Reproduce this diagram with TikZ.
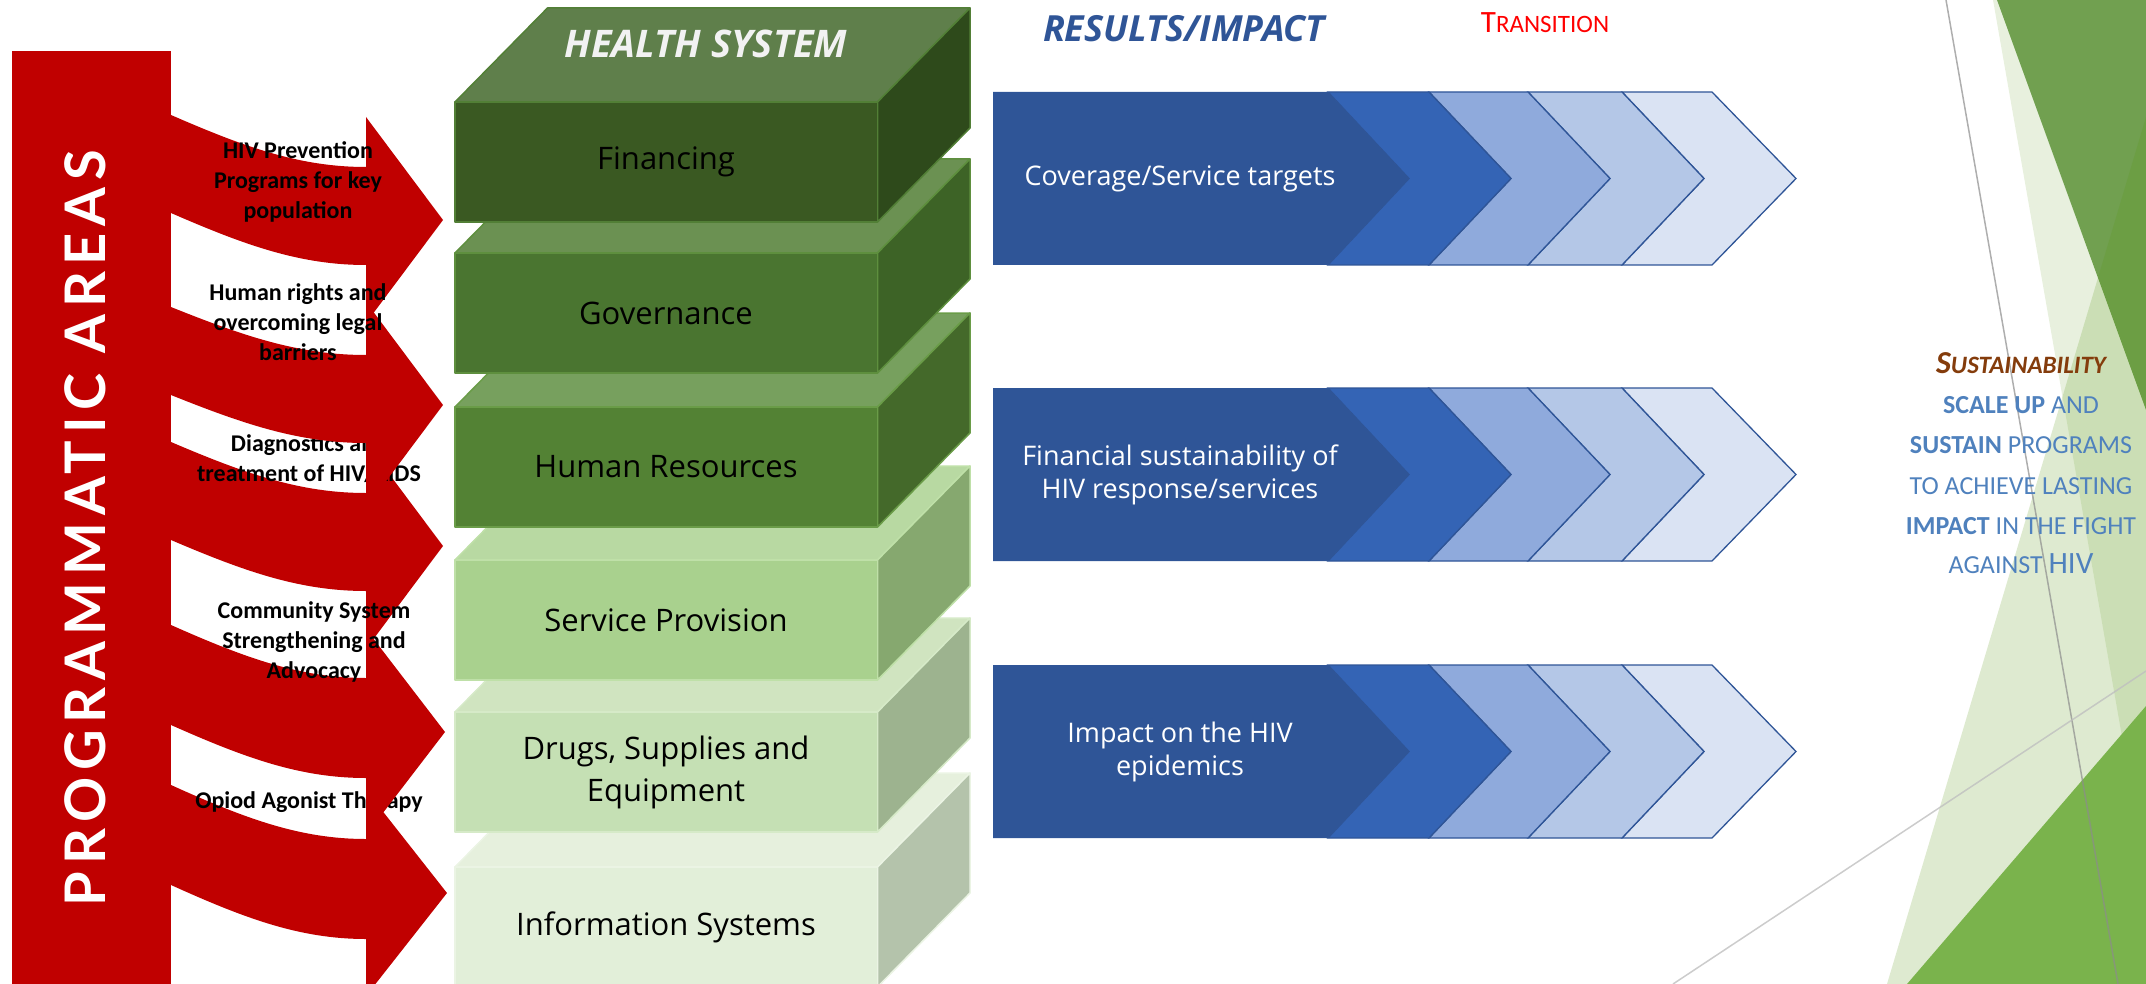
\documentclass[tikz,border=0pt]{standalone}
\usepackage{fontspec}
\setmainfont{Open Sans}
\newfontfamily\calfont{Carlito}
\newfontfamily\latofont{Lato}
\usetikzlibrary{calc}

\definecolor{arrowred}{HTML}{C00000}
\definecolor{blueD}{HTML}{2F5597}
\definecolor{blueM}{HTML}{3464B5}
\definecolor{blueL1}{HTML}{8FAADC}
\definecolor{blueL2}{HTML}{B4C7E7}
\definecolor{blueL3}{HTML}{DAE3F3}
\definecolor{b1t}{HTML}{5F7F4B}\definecolor{b1f}{HTML}{3A5922}\definecolor{b1s}{HTML}{2E4A1B}\definecolor{b1e}{HTML}{527F36}
\definecolor{b2t}{HTML}{6B9152}\definecolor{b2f}{HTML}{4A7530}\definecolor{b2s}{HTML}{3D6326}\definecolor{b2e}{HTML}{5E8F3E}
\definecolor{b3t}{HTML}{77A05E}\definecolor{b3f}{HTML}{538234}\definecolor{b3s}{HTML}{44692A}\definecolor{b3e}{HTML}{6A9C48}
\definecolor{b4t}{HTML}{B8D9A2}\definecolor{b4f}{HTML}{A9D18E}\definecolor{b4s}{HTML}{86A86F}\definecolor{b4e}{HTML}{BFE0A8}
\definecolor{b5t}{HTML}{D0E4C0}\definecolor{b5f}{HTML}{C5E0B4}\definecolor{b5s}{HTML}{9DB38F}\definecolor{b5e}{HTML}{D6EAC8}
\definecolor{b6t}{HTML}{E6F0DD}\definecolor{b6f}{HTML}{E2EFD9}\definecolor{b6s}{HTML}{B4C3AB}\definecolor{b6e}{HTML}{EBF4E4}
\definecolor{hswhite}{HTML}{F2F2F2}
\definecolor{sustbrown}{HTML}{843C0C}
\definecolor{sustblue}{HTML}{4F81BD}
\definecolor{decoC}{RGB}{90,150,20}
\definecolor{decoDark}{HTML}{71A050}
\definecolor{decoMid}{HTML}{7AB34C}
\definecolor{transred}{HTML}{FF0000}

\tikzset{
  blocktext/.style={font=\fontsize{31}{42}\selectfont, text=black, align=center, inner sep=0pt},
  chevtext/.style={font=\fontsize{27}{33}\selectfont, text=white, align=center, inner sep=0pt},
  areatext/.style={font=\calfont\bfseries\fontsize{24}{30}\selectfont, text=black, align=center, inner sep=0pt},
  susttext/.style={font=\calfont\fontsize{26}{26}\selectfont, text=sustblue, anchor=base, inner sep=0pt},
  chevbox/.style={draw=blueD, line width=1.3pt, line join=miter},
  blockedge/.style={line width=1.5pt, line join=round},
}

% #1 top y, #2 top col, #3 front col, #4 side col, #5 edge col, #6 name, #7 text
\newcommand\hsblock[7]{%
  \filldraw[blockedge, fill=#2, draw=#5] (455,#1) -- (547.5,{#1-94}) -- (970,{#1-94}) -- (877.5,#1) -- cycle;
  \filldraw[blockedge, fill=#4, draw=#5] (877.5,#1) -- (970,{#1-94}) -- (970,{#1+26}) -- (877.5,{#1+120}) -- cycle;
  \filldraw[blockedge, fill=#3, draw=#5] (455,#1) rectangle (877.5,{#1+120});
  \node[blocktext] (#6) at (666,{#1+60}) {#7};
}

% #1 top y, #2 name, #3 text
\newcommand\chevrow[3]{%
  \pgfmathsetmacro\ct{#1}\pgfmathsetmacro\cm{#1+86.5}\pgfmathsetmacro\cb{#1+173}%
  \filldraw[chevbox, fill=blueL3] (1622,\ct) -- (1712,\ct) -- (1796,\cm) -- (1712,\cb) -- (1622,\cb) -- (1704,\cm) -- cycle;
  \filldraw[chevbox, fill=blueL2] (1528,\ct) -- (1622,\ct) -- (1704,\cm) -- (1622,\cb) -- (1528,\cb) -- (1610,\cm) -- cycle;
  \filldraw[chevbox, fill=blueL1] (1429,\ct) -- (1528,\ct) -- (1610,\cm) -- (1528,\cb) -- (1429,\cb) -- (1511,\cm) -- cycle;
  \filldraw[chevbox, fill=blueM] (1328,\ct) -- (1429,\ct) -- (1511,\cm) -- (1429,\cb) -- (1328,\cb) -- (1409,\cm) -- cycle;
  \fill[blueD] (993,\ct) -- (1328,\ct) -- (1409,\cm) -- (1328,\cb) -- (993,\cb) -- cycle;
  \node[chevtext] (#2) at (1180,\cm) {#3};
}

% #1 name, #2 top at bar, #3 top at head, #4 thickness, #5 tip x, #6 tip y
\newcommand\redarrow[6]{%
  \fill[arrowred] (160,#2) -- (171,#2) .. controls (245,{#2+0.62*(#3-#2)}) and (300,#3) .. (366,#3)
    -- (366,{#6-103}) -- (#5,#6) -- (366,{#6+103}) -- (366,{#3+#4})
    .. controls (300,{#3+#4}) and (245,{#2+#4+0.62*(#3-#2)}) .. (171,{#2+#4}) -- (160,{#2+#4}) -- cycle;
  \coordinate (#1) at (#5,#6);
}

\begin{document}
\begin{tikzpicture}[x=1pt,y=-1pt]
\useasboundingbox (0,0) rectangle (2146,984);

% ---------- right decoration ----------
\fill[decoC, opacity=0.14] (1993,0) -- (2146,0) -- (2146,874) -- cycle;
\fill[decoDark] (1997,0) -- (2146,0) -- (2146,410) -- cycle;
\fill[decoC, opacity=0.2] (2146,117) -- (2146,984) -- (1887,984) -- cycle;
\fill[decoMid] (1907,984) -- (2146,706) -- (2146,984) -- cycle;
\draw[black!45, opacity=0.7, line width=1.5pt] (1946,0) -- (2118,984);
\draw[black!25, opacity=0.8, line width=1.5pt] (1673,984) -- (2146,671);

% ---------- health system blocks ----------
\hsblock{867}{b6t}{b6f}{b6s}{b6e}{info}{Information Systems}
\hsblock{712}{b5t}{b5f}{b5s}{b5e}{drugs}{Drugs, Supplies and\\Equipment}
\hsblock{560}{b4t}{b4f}{b4s}{b4e}{service}{Service Provision}
\hsblock{407}{b3t}{b3f}{b3s}{b3e}{hr}{Human Resources}
\hsblock{253}{b2t}{b2f}{b2s}{b2e}{gov}{Governance}
\hsblock{102}{b1t}{b1f}{b1s}{b1e}{fin}{Financing}
\node[anchor=base, text=hswhite, font=\bfseries\itshape\fontsize{38}{38}\selectfont, inner sep=0pt] (hs) at (706,58) {HEALTH SYSTEM};

% ---------- results / impact ----------
\node[anchor=base, text=blueD, font=\bfseries\itshape\fontsize{36}{36}\selectfont, inner sep=0pt] (res) at (1184,42) {RESULTS/IMPACT};
\node[anchor=base, text=transred, font=\calfont\fontsize{25}{25}\selectfont, inner sep=0pt] (trans) at (1545,33) {{\fontsize{31}{31}\selectfont T}RANSITION};
\chevrow{92}{cov}{Coverage/Service targets}
\chevrow{388}{finsus}{Financial sustainability of\\HIV response/services}
\chevrow{665}{imp}{Impact on the HIV\\epidemics}

% ---------- programmatic areas ----------
\fill[arrowred] (12,51) rectangle (171,984);
\redarrow{a1}{115}{167}{98}{443}{220}
\node[areatext] (t1) at (298,182) {HIV Prevention\\Programs for key\\population};
\redarrow{a3}{442}{493}{98}{443}{546}
\node[areatext] (t3) at (309,459) {Diagnostics and\\treatment of HIV/AIDS};
\redarrow{a5}{785}{839}{100}{447}{893}
\node[areatext] (t5) at (309,802) {Opiod Agonist Therapy};
\redarrow{a2}{307}{355}{88}{443}{405}
\node[areatext] (t2) at (298,322) {Human rights and\\overcoming legal\\barriers};
\redarrow{a4}{625}{678}{100}{445}{732}
\node[areatext] (t4) at (314,642) {Community System\\Strengthening and\\Advocacy};
\node[rotate=90, text=white, inner sep=0pt] (prog) at (85,528)
  {\resizebox{756pt}{!}{\latofont\bfseries\fontsize{60}{60}\selectfont\addfontfeatures{LetterSpace=12}PROGRAMMATIC AREAS}};

% ---------- sustainability ----------
\node[susttext] (s0) at (2021,373) {\bfseries\itshape\color{sustbrown}\fontsize{32}{32}\selectfont S\fontsize{25}{25}\selectfont USTAINABILITY};
\node[susttext] (s1) at (2021,413) {\textbf{SCALE UP} AND};
\node[susttext] (s2) at (2021,453) {\textbf{SUSTAIN} PROGRAMS};
\node[susttext] (s3) at (2021,494) {TO ACHIEVE LASTING};
\node[susttext] (s4) at (2021,534) {\textbf{IMPACT} IN THE FIGHT};
\node[susttext] (s5) at (2021,573) {AGAINST {\fontsize{31}{31}\selectfont HIV}};
\end{tikzpicture}
\end{document}
